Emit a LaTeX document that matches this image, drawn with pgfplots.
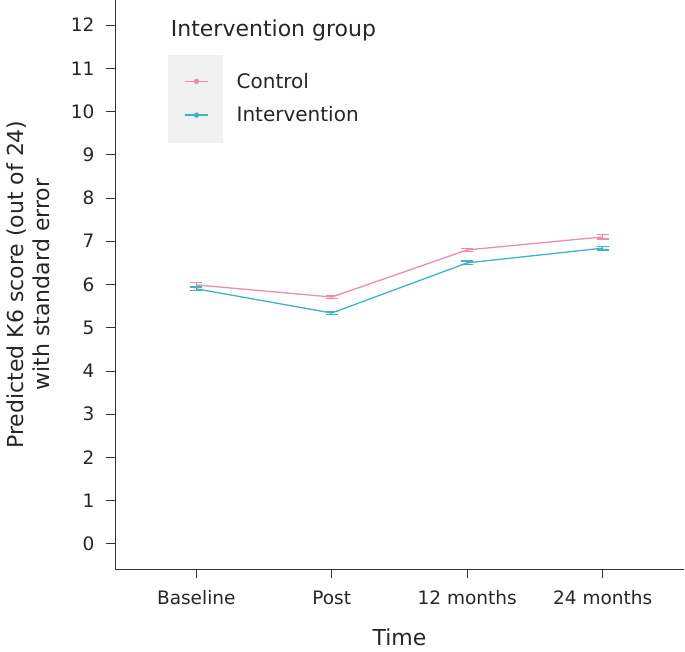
\documentclass[border=0pt]{standalone}
\usepackage{fontspec}
\setmainfont{DejaVu Sans}
\usepackage{pgfplots}
\pgfplotsset{compat=1.18}

\definecolor{ctrl}{HTML}{F08AAE}
\definecolor{intv}{HTML}{3BB5C7}
\definecolor{axcol}{HTML}{333333}
\definecolor{keybg}{HTML}{F0F0F0}

\begin{document}
\begin{tikzpicture}
  \begin{axis}[
    scale only axis,
    width=569pt,
    height=569pt,
    xmin=-0.6, xmax=3.6,
    ymin=-0.58, ymax=12.58,
    axis x line*=bottom,
    axis y line*=left,
    axis line style={axcol, line width=0.9pt},
    xtick={0,1,2,3},
    xticklabels={Baseline,Post,12 months,24 months},
    ytick={0,1,...,12},
    tick align=outside,
    major tick length=9pt,
    tick style={axcol, line width=0.9pt},
    /pgf/number format/assume math mode=true,
    ticklabel style={font=\fontsize{18.5}{22}\selectfont, text=black!85},
    xticklabel style={yshift=-9pt},
    yticklabel style={xshift=-8pt},
    xlabel={Time},
    ylabel={Predicted K6 score (out of 24)\\with standard error},
    label style={font=\fontsize{22}{26}\selectfont, text=black!85},
    xlabel style={at={(axis description cs:0.5,-0.1195)}, anchor=center},
    ylabel style={at={(axis description cs:-0.153,0.5)}, anchor=center, align=center},
    legend style={
      at={(axis description cs:0.1215,0.8755)}, anchor=north west,
      draw=none, fill=none,
      font=\fontsize{20}{24}\selectfont,
      row sep=13pt,
      column sep=26pt,
      inner sep=0pt,
      nodes={inner sep=2pt, text=black!85},
    },
    legend cell align=left,
    legend image code/.code={
      \draw[#1, line width=1.3pt] (0pt,0pt) -- (23pt,0pt);
      \fill[#1] (11.5pt,0pt) circle (2pt);
    },
    clip=false,
  ]

    % grey key panel of the legend
    \fill[keybg] (axis description cs:0.094,0.749) rectangle (axis description cs:0.189,0.903);
    \node[anchor=west, font=\fontsize{22}{26}\selectfont, text=black!85]
      at (axis description cs:0.092,0.947) {Intervention group};

    \addplot[ctrl, line width=1.3pt,
      error bars/.cd, y dir=both, y explicit,
      error mark options={ctrl, rotate=90, mark size=6pt, line width=1.3pt},
      error bar style={ctrl, line width=1.3pt}]
      coordinates {(0,5.99) +- (0,0.05) (1,5.71) +- (0,0.04) (2,6.80) +- (0,0.04) (3,7.10) +- (0,0.05)};
    \addlegendentry{Control}

    \addplot[intv, line width=1.3pt,
      error bars/.cd, y dir=both, y explicit,
      error mark options={intv, rotate=90, mark size=6pt, line width=1.3pt},
      error bar style={intv, line width=1.3pt}]
      coordinates {(0,5.90) +- (0,0.04) (1,5.34) +- (0,0.04) (2,6.50) +- (0,0.04) (3,6.84) +- (0,0.04)};
    \addlegendentry{Intervention}

  \end{axis}
  \pgfresetboundingbox
  \useasboundingbox (-115pt,-83pt) rectangle (570pt,569pt);
\end{tikzpicture}
\end{document}
